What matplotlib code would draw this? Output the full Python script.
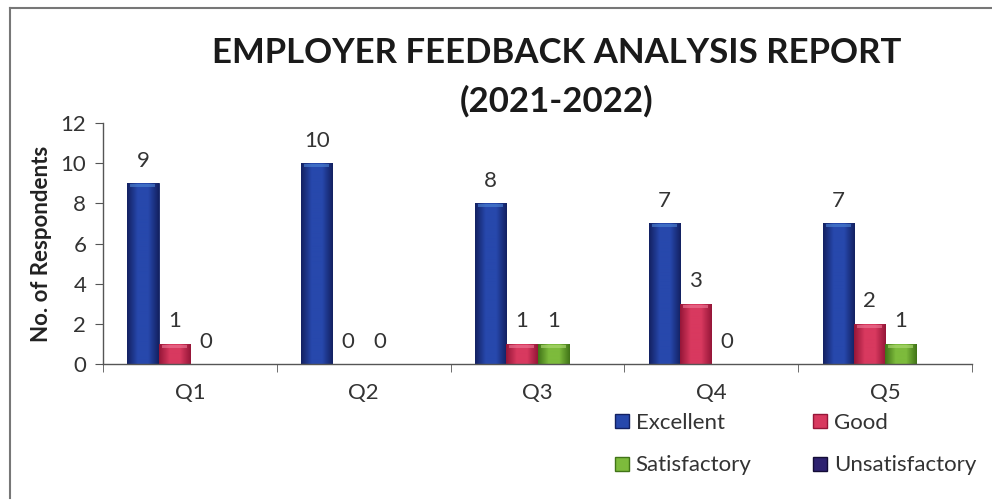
import numpy as np
import matplotlib
matplotlib.use("Agg")
import matplotlib.pyplot as plt
from matplotlib.colors import LinearSegmentedColormap
from matplotlib.lines import Line2D

categories = ["Q1", "Q2", "Q3", "Q4", "Q5"]
series_names = ["Excellent", "Good", "Satisfactory", "Unsatisfactory"]
excellent = [9, 10, 8, 7, 7]
good = [1, 0, 1, 3, 2]
satisfactory = [0, 0, 1, 0, 1]
unsatisfactory = [np.nan, np.nan, np.nan, np.nan, np.nan]
yticks = [0, 2, 4, 6, 8, 10, 12]
title = "EMPLOYER FEEDBACK ANALYSIS REPORT\n(2021-2022)"
ylabel = "No. of Respondents"

series = [excellent, good, satisfactory, unsatisfactory]
# (dark edge, center, top cap)
shades = [("#132162", "#2748ac", "#4f86d6"),
          ("#961638", "#d8395f", "#ee7a98"),
          ("#417418", "#7dbb3c", "#b2dc78"),
          ("#140c36", "#2e2270", "#5a4aa8")]

plt.rcParams['font.family'] = ['Lato', 'DejaVu Sans']

fig = plt.figure(figsize=(9.92, 5.0), dpi=100)
W, H = 992, 500
ax = fig.add_axes([103 / W, (500 - 364) / H, (972 - 103) / W, (364 - 123) / H])

x = np.arange(len(categories))
bw = 0.18
offsets = (np.arange(4) - 1.5) * bw

for si, (vals, (dk, md, tp)) in enumerate(zip(series, shades)):
    cmap = LinearSegmentedColormap.from_list("c%d" % si, [dk, md, md, dk])
    bars = ax.bar(x + offsets[si], vals, width=bw, color=md, edgecolor=dk,
                  linewidth=0.6, zorder=2, label=series_names[si])
    grad = np.linspace(0, 1, 64).reshape(1, -1)
    for b, v in zip(bars, vals):
        if np.isnan(v) or v <= 0:
            continue
        x0, w, h = b.get_x(), b.get_width(), b.get_height()
        im = ax.imshow(grad, cmap=cmap, extent=(x0, x0 + w, 0, h),
                       aspect='auto', zorder=2.1, origin='lower')
        im.set_clip_path(b)
        # light top bevel
        ax.fill_between([x0 + w * 0.1, x0 + w * 0.9], h - 0.2, h - 0.04,
                        color=tp, alpha=0.6, zorder=2.2, linewidth=0)
    if si < 3:
        for xi, v in zip(x, vals):
            ax.annotate("%d" % v, (xi + offsets[si], v), xytext=(0, 9),
                        textcoords='offset points', ha='center', va='bottom',
                        fontsize=16, color='#333333')

ax.set_xlim(-0.5, len(categories) - 0.5)
ax.set_ylim(0, 12)
ax.set_yticks(yticks)
ax.set_xticks(x)
ax.set_xticklabels(categories)
ax.set_xticks(np.arange(-0.5, len(categories)), minor=True)
ax.tick_params(axis='x', which='major', length=0, pad=14, labelsize=16,
               labelcolor='#333333')
ax.tick_params(axis='x', which='minor', length=6, direction='out',
               color='#555555')
ax.tick_params(axis='y', length=6, direction='out', color='#555555',
               labelsize=16, labelcolor='#333333', pad=6)
for s in ['top', 'right']:
    ax.spines[s].set_visible(False)
for s in ['left', 'bottom']:
    ax.spines[s].set_color('#555555')
    ax.spines[s].set_linewidth(1.0)
ax.set_ylabel(ylabel, fontsize=16, fontweight='bold', color='#222222',
              labelpad=6)

fig.text(557 / W, 1 - 77 / H, title, ha='center', va='center',
         fontsize=25, fontweight='bold', color='#1a1a1a', linespacing=1.6)

handles = []
for (dk, md, tp), nm in zip(shades, series_names):
    handles.append(Line2D([], [], marker='s', linestyle='none',
                          markersize=10, markerfacecolor=md,
                          markeredgecolor=dk, label=nm))
# column-major fill -> reorder so rows read Excellent, Good / Satisfactory, Unsatisfactory
order = [0, 2, 1, 3]
leg = fig.legend(handles=[handles[i] for i in order], ncol=2, loc='upper left',
                 bbox_to_anchor=(600 / W, 1 - 402 / H), frameon=False,
                 fontsize=16, handletextpad=0.1, columnspacing=2.6,
                 labelspacing=1.0, handlelength=1.0, borderpad=0)
for t in leg.get_texts():
    t.set_color('#333333')

# outer frame
fig.add_artist(Line2D([10 / W, 10 / W], [2 / H, 1 - 8 / H],
                      transform=fig.transFigure, color='#777777', lw=1.5))
fig.add_artist(Line2D([10 / W, 1.0], [1 - 8 / H, 1 - 8 / H],
                      transform=fig.transFigure, color='#777777', lw=1.5))

fig.savefig("out.png", dpi=100, facecolor='white')
